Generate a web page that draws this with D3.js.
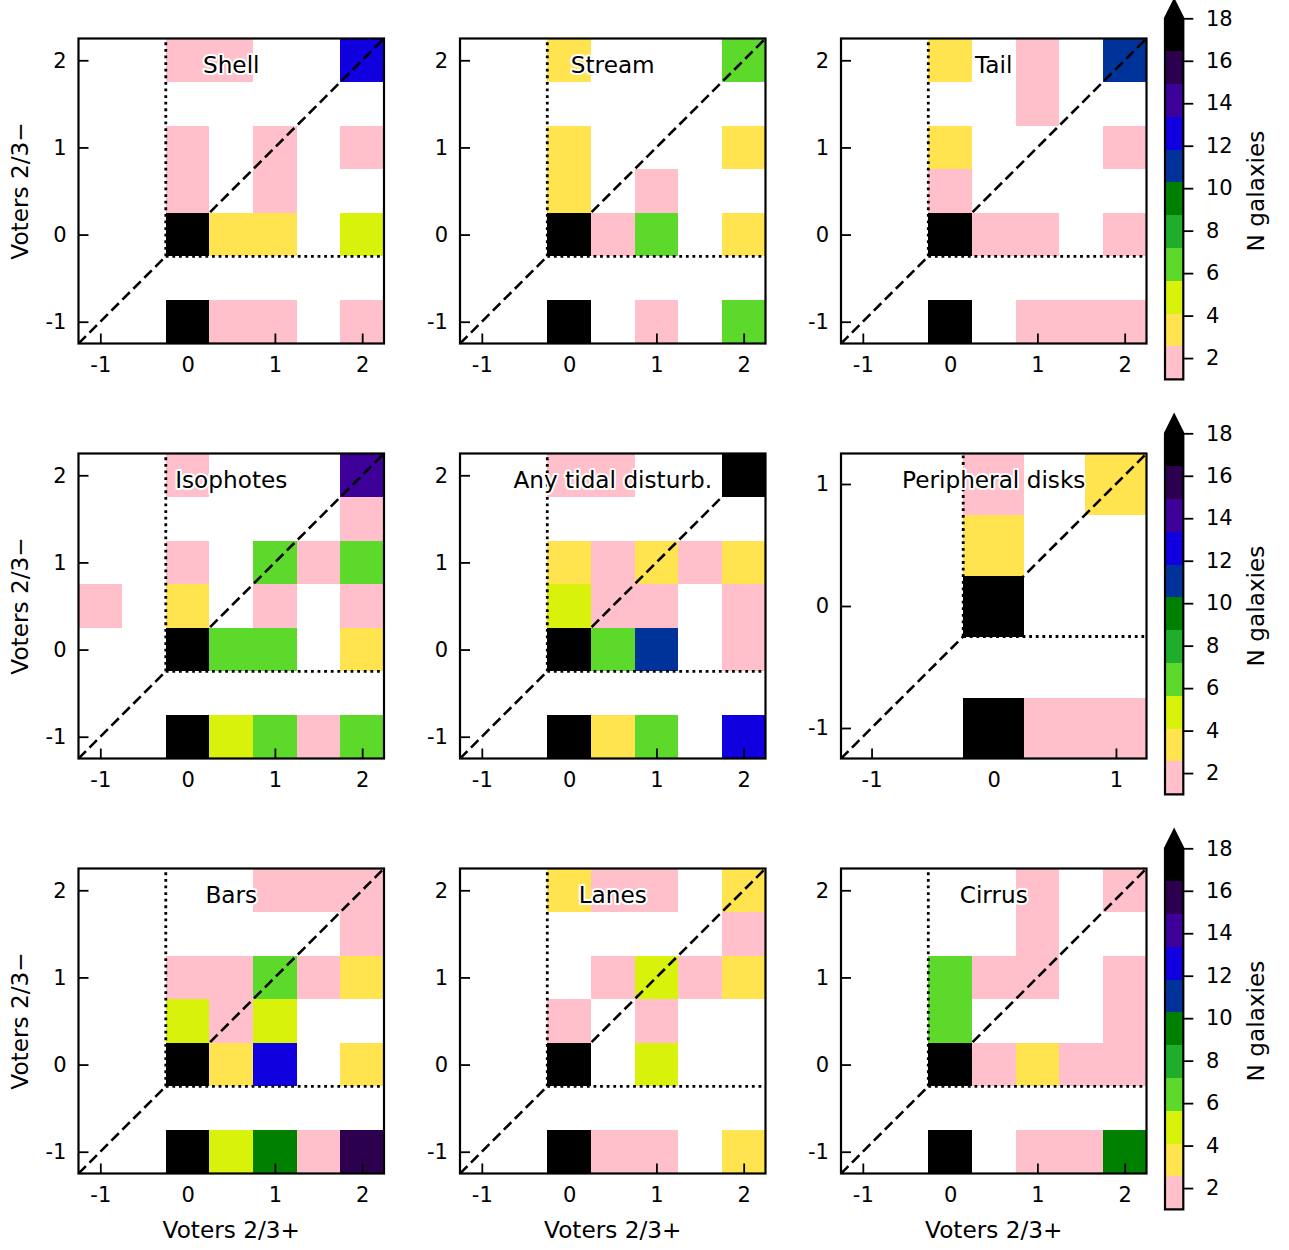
<!DOCTYPE html>
<html>
<head>
<meta charset="utf-8">
<script src="https://cdn.jsdelivr.net/npm/d3@7"></script>
<style>
  html, body { margin: 0; padding: 0; background: #fff; }
  svg { display: block; font-family: "DejaVu Sans", sans-serif; }
</style>
</head>
<body>
<svg id="chart" width="1289" height="1250"></svg>
<script>
// ---------------- DATA ----------------
// Panel titles (reading order, left-to-right, top-to-bottom)
const titles = ["Shell", "Stream", "Tail", "Isophotes", "Any tidal disturb.",
                "Peripheral disks", "Bars", "Lanes", "Cirrus"];

// Bin centres for the 7x7 panels
const binsFull = [-1, -0.5, 0, 0.5, 1, 1.5, 2];
// Bin centres for the 5x5 panel (Peripheral disks)
const binsSmall = [-1, -0.5, 0, 0.5, 1];

// Counts: rows are y (top row = highest y), columns are x (ascending). 0 = empty
const shell = [
  [0,0,2,2,0,0,12],
  [0,0,0,0,0,0,0],
  [0,0,2,0,2,0,2],
  [0,0,2,0,2,0,0],
  [0,0,40,4,3,0,5],
  [0,0,0,0,0,0,0],
  [0,0,30,2,2,0,1]
];
const stream = [
  [0,0,3,0,0,0,6],
  [0,0,0,0,0,0,0],
  [0,0,4,0,0,0,3],
  [0,0,3,0,2,0,0],
  [0,0,40,2,7,0,4],
  [0,0,0,0,0,0,0],
  [0,0,30,0,1,0,6]
];
const tail = [
  [0,0,3,0,2,0,11],
  [0,0,0,0,1,0,0],
  [0,0,4,0,0,0,2],
  [0,0,2,0,0,0,0],
  [0,0,40,1,2,0,2],
  [0,0,0,0,0,0,0],
  [0,0,30,0,2,1,2]
];
const isophotes = [
  [0,0,2,0,0,0,14],
  [0,0,0,0,0,0,2],
  [0,0,2,0,6,2,7],
  [1,0,4,0,2,0,1],
  [0,0,40,6,7,0,3],
  [0,0,0,0,0,0,0],
  [0,0,30,5,6,2,7]
];
const anyTidal = [
  [0,0,2,1,0,0,35],
  [0,0,0,0,0,0,0],
  [0,0,4,2,3,2,4],
  [0,0,5,2,1,0,2],
  [0,0,50,7,11,0,2],
  [0,0,0,0,0,0,0],
  [0,0,35,4,6,0,13]
];
const peripheral = [
  [0,0,2,0,4],
  [0,0,3,0,0],
  [0,0,40,0,0],
  [0,0,0,0,0],
  [0,0,30,2,1]
];
const bars = [
  [0,0,0,0,2,1,2],
  [0,0,0,0,0,0,2],
  [0,0,2,1,6,2,4],
  [0,0,5,2,5,0,0],
  [0,0,40,3,13,0,4],
  [0,0,0,0,0,0,0],
  [0,0,35,5,9,2,16]
];
const lanes = [
  [0,0,3,2,1,0,4],
  [0,0,0,0,0,0,2],
  [0,0,0,1,5,2,4],
  [0,0,2,0,1,0,0],
  [0,0,40,0,5,0,0],
  [0,0,0,0,0,0,0],
  [0,0,30,1,2,0,3]
];
const cirrus = [
  [0,0,0,0,1,0,2],
  [0,0,0,0,2,0,0],
  [0,0,6,1,2,0,1],
  [0,0,7,0,0,0,2],
  [0,0,40,2,4,1,2],
  [0,0,0,0,0,0,0],
  [0,0,30,0,2,1,10]
];
const panelData = [shell, stream, tail, isophotes, anyTidal, peripheral, bars, lanes, cirrus];

// Colour bar
const cbarMin = 1, cbarMax = 18;
const cbarColors = ["#ffc0cb", "#ffe34f", "#d8f20c", "#5cd92b", "#1fad2b", "#008000",
                    "#00339a", "#1000e0", "#3d0099", "#2c004f", "#000000"];
const cbarTicks = [2, 4, 6, 8, 10, 12, 14, 16, 18];
const cbarLabel = "N galaxies";
const xLabel = "Voters 2/3+";
const yLabel = "Voters 2/3\u2212";

// ---------------- LAYOUT ----------------
const svg = d3.select("#chart");
const colLeft = [78.5, 460, 841];
const rowTop = [38.5, 453.5, 868.5];
const pw = 305.5, ph = 305;
const tickFont = 21, labelFont = 23.2;

const nBands = cbarColors.length;
const bounds = d3.range(1, nBands).map(k => cbarMin + k * (cbarMax - cbarMin) / nBands);
const color = d3.scaleThreshold().domain(bounds).range(cbarColors);

panelData.forEach((grid, i) => {
  const r = Math.floor(i / 3), c = i % 3;
  const left = colLeft[c], top = rowTop[r];
  const bins = grid.length === 7 ? binsFull : binsSmall;
  const lo = bins[0] - 0.25, hi = bins[bins.length - 1] + 0.25;
  const x = d3.scaleLinear().domain([lo, hi]).range([left, left + pw]);
  const y = d3.scaleLinear().domain([lo, hi]).range([top + ph, top]);
  const g = svg.append("g");

  const clipId = "clip" + i;
  svg.append("clipPath").attr("id", clipId)
    .append("rect").attr("x", left).attr("y", top).attr("width", pw).attr("height", ph);

  // cells
  const cells = [];
  grid.forEach((row, ri) => {
    const yv = bins[bins.length - 1 - ri];
    row.forEach((v, ci) => { if (v > 0) cells.push({x: bins[ci], y: yv, v}); });
  });
  g.append("g").selectAll("rect").data(cells).join("rect")
    .attr("x", d => x(d.x - 0.25))
    .attr("y", d => y(d.y + 0.25))
    .attr("width", d => x(d.x + 0.25) - x(d.x - 0.25))
    .attr("height", d => y(d.y - 0.25) - y(d.y + 0.25))
    .attr("fill", d => color(d.v))
    .attr("shape-rendering", "crispEdges");

  const lg = g.append("g").attr("clip-path", `url(#${clipId})`);
  // dotted guide lines
  lg.append("line")
    .attr("x1", x(-0.25)).attr("y1", y(-0.25)).attr("x2", x(-0.25)).attr("y2", y(hi))
    .attr("stroke", "#000").attr("stroke-width", 2.8).attr("stroke-dasharray", "2.8,3.8");
  lg.append("line")
    .attr("x1", x(-0.25)).attr("y1", y(-0.25)).attr("x2", x(hi)).attr("y2", y(-0.25))
    .attr("stroke", "#000").attr("stroke-width", 2.8).attr("stroke-dasharray", "2.8,3.8");
  // dashed diagonal
  lg.append("line")
    .attr("x1", x(lo)).attr("y1", y(lo)).attr("x2", x(hi)).attr("y2", y(hi))
    .attr("stroke", "#000").attr("stroke-width", 2.6).attr("stroke-dasharray", "10.5,5");

  // axes
  const ticks = d3.range(Math.ceil(lo), Math.floor(hi) + 1);
  const fmt = d => String(d);
  const ax = g.append("g").attr("transform", `translate(0,${top + ph})`)
    .call(d3.axisBottom(x).tickValues(ticks).tickFormat(fmt).tickSizeInner(-10).tickSizeOuter(0).tickPadding(14));
  const ay = g.append("g").attr("transform", `translate(${left},0)`)
    .call(d3.axisLeft(y).tickValues(ticks).tickFormat(fmt).tickSizeInner(-10).tickSizeOuter(0).tickPadding(12));
  [ax, ay].forEach(a => {
    a.select(".domain").remove();
    a.selectAll("line").attr("stroke", "#000").attr("stroke-width", 1.8);
    a.selectAll("text").attr("font-size", tickFont).attr("fill", "#000")
      .attr("font-family", "DejaVu Sans");
  });

  // frame
  g.append("rect").attr("x", left).attr("y", top).attr("width", pw).attr("height", ph)
    .attr("fill", "none").attr("stroke", "#000").attr("stroke-width", 2.2);

  // title with white outline
  g.append("text").attr("x", left + pw / 2).attr("y", top + 34.5)
    .attr("text-anchor", "middle").attr("font-size", labelFont)
    .attr("fill", "#000").attr("stroke", "#fff").attr("stroke-width", 4)
    .attr("stroke-linejoin", "round").attr("paint-order", "stroke")
    .text(titles[i]);

  if (c === 0) {
    svg.append("text")
      .attr("transform", `translate(28,${top + ph / 2}) rotate(-90)`)
      .attr("text-anchor", "middle").attr("font-size", labelFont).attr("fill", "#000")
      .text(yLabel);
  }
  if (r === 2) {
    svg.append("text").attr("x", left + pw / 2).attr("y", top + ph + 64.7)
      .attr("text-anchor", "middle").attr("font-size", labelFont).attr("fill", "#000")
      .text(xLabel);
  }
});

// colour bars, one per row
rowTop.forEach(top => {
  const cx0 = 1165, cw = 18.3;
  const cy = d3.scaleLinear().domain([cbarMin, cbarMax]).range([top + 340.8, top - 20.2]);
  const g = svg.append("g");
  const edges = [cbarMin, ...bounds, cbarMax];
  g.selectAll("rect.band").data(cbarColors).join("rect").attr("class", "band")
    .attr("x", cx0).attr("width", cw)
    .attr("y", (d, k) => cy(edges[k + 1]))
    .attr("height", (d, k) => cy(edges[k]) - cy(edges[k + 1]))
    .attr("fill", d => d)
    .attr("shape-rendering", "crispEdges");
  const tipY = cy(cbarMax) - 18.3;
  // extension arrow
  g.append("path")
    .attr("d", `M${cx0},${cy(cbarMax)} L${cx0 + cw / 2},${tipY} L${cx0 + cw},${cy(cbarMax)} Z`)
    .attr("fill", cbarColors[cbarColors.length - 1]);
  // outline
  g.append("path")
    .attr("d", `M${cx0},${cy(cbarMin)} L${cx0},${cy(cbarMax)} L${cx0 + cw / 2},${tipY} L${cx0 + cw},${cy(cbarMax)} L${cx0 + cw},${cy(cbarMin)} Z`)
    .attr("fill", "none").attr("stroke", "#000").attr("stroke-width", 2.2);
  const a = g.append("g").attr("transform", `translate(${cx0 + cw},0)`)
    .call(d3.axisRight(cy).tickValues(cbarTicks).tickSizeInner(10).tickSizeOuter(0).tickPadding(12.7));
  a.select(".domain").remove();
  a.selectAll("line").attr("stroke", "#000").attr("stroke-width", 1.8);
  a.selectAll("text").attr("font-size", tickFont).attr("fill", "#000").attr("font-family", "DejaVu Sans");
  svg.append("text")
    .attr("transform", `translate(1264,${top + ph / 2}) rotate(-90)`)
    .attr("text-anchor", "middle").attr("font-size", labelFont).attr("fill", "#000")
    .text(cbarLabel);
});
</script>
</body>
</html>
